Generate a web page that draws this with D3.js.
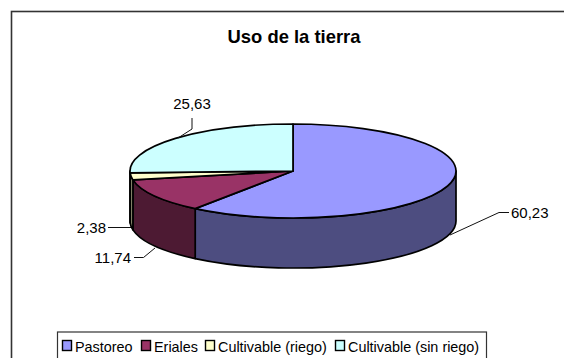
<!DOCTYPE html>
<html>
<head>
<meta charset="utf-8">
<script src="https://cdn.jsdelivr.net/npm/d3@7"></script>
<style>
    html, body { margin: 0; padding: 0; background: #fff; overflow: hidden; }
    text { font-family: "Liberation Sans", Arial, sans-serif; fill: #000; }
</style>
</head>
<body>
<div id="chart"></div>
<script>
const categories = ["Pastoreo", "Eriales", "Cultivable (riego)", "Cultivable (sin riego)"];
const values = [60.23, 11.74, 2.38, 25.63];
const valueLabels = ["60,23", "11,74", "2,38", "25,63"];
const topColors = ["#9999ff", "#993366", "#ffffcc", "#ccffff"];
const sideColors = ["#4d4d80", "#4d1a33", "#808066", "#668080"];
const chartTitle = "Uso de la tierra";

const width = 564, height = 358;
const cx = 293, cy = 171, rx = 163, ry = 47, depth = 50;

const svg = d3.select("#chart").append("svg")
    .attr("width", width)
    .attr("height", height)
    .style("display", "block");

// chart frame, runs off the right and bottom of the picture
svg.append("rect")
    .attr("x", 11.5).attr("y", 11.5)
    .attr("width", 600).attr("height", 400)
    .attr("fill", "#fff")
    .attr("stroke", "#333")
    .attr("stroke-width", 1.6);

svg.append("text")
    .attr("x", 294).attr("y", 43)
    .attr("text-anchor", "middle")
    .style("font-size", "18.4px")
    .style("font-weight", "bold")
    .text(chartTitle);

const pie = d3.pie().sort(null).startAngle(0).endAngle(2 * Math.PI);
const slices = pie(values);

// angle is clockwise from 12 o'clock, like d3.arc
const px = a => cx + rx * Math.sin(a);
const py = a => cy - ry * Math.cos(a);

// side walls, only the front half of the ellipse shows
slices.forEach(function(d, i) {
    let a0 = Math.max(d.startAngle, Math.PI / 2);
    let a1 = Math.min(d.endAngle, 3 * Math.PI / 2);
    if (a1 <= a0) return;
    svg.append("path")
        .attr("d", "M" + px(a0) + "," + py(a0)
            + "A" + rx + "," + ry + " 0 0 1 " + px(a1) + "," + py(a1)
            + "L" + px(a1) + "," + (py(a1) + depth)
            + "A" + rx + "," + ry + " 0 0 0 " + px(a0) + "," + (py(a0) + depth)
            + "Z")
        .attr("fill", sideColors[i])
        .attr("stroke", "#000")
        .attr("stroke-width", 1.7)
        .attr("stroke-linejoin", "round");
});

// top face
const arc = d3.arc().innerRadius(0).outerRadius(rx);
svg.append("g")
    .attr("transform", "translate(" + cx + "," + cy + ") scale(1," + (ry / rx) + ")")
    .selectAll("path")
    .data(slices)
    .enter().append("path")
    .attr("d", arc)
    .attr("fill", (d, i) => topColors[i])
    .attr("stroke", "#000")
    .attr("stroke-width", 1.7)
    .attr("stroke-linejoin", "round")
    .attr("vector-effect", "non-scaling-stroke");

// data labels with leader lines
const labelSpots = [
    { x: 511, y: 218, anchor: "start", pts: [[450, 235], [499, 212.5], [509, 212.5]] },
    { x: 131, y: 263, anchor: "end", pts: [[155, 248], [143.5, 257.5], [134, 257.5]] },
    { x: 106, y: 233, anchor: "end", pts: [[131, 227.5], [108, 227.5]] },
    { x: 192, y: 109, anchor: "middle", pts: [[178, 138], [192, 129], [192, 118]] }
];
const leader = d3.line();
slices.forEach(function(d, i) {
    let s = labelSpots[i];
    svg.append("path")
        .attr("d", leader(s.pts))
        .attr("fill", "none")
        .attr("stroke", "#111")
        .attr("stroke-width", 1);
    svg.append("text")
        .attr("x", s.x).attr("y", s.y)
        .attr("text-anchor", s.anchor)
        .style("font-size", "15px")
        .text(valueLabels[i]);
});

// legend
const legendBox = svg.append("g");
legendBox.append("rect")
    .attr("x", 57.5).attr("y", 332)
    .attr("width", 429).attr("height", 40)
    .attr("fill", "#fff")
    .attr("stroke", "#333")
    .attr("stroke-width", 1.2);
const legendX = [62.5, 141.5, 205.5, 335.5];
categories.forEach(function(c, i) {
    legendBox.append("rect")
        .attr("x", legendX[i]).attr("y", 340.5)
        .attr("width", 9).attr("height", 10)
        .attr("fill", topColors[i])
        .attr("stroke", "#000")
        .attr("stroke-width", 1.4);
    legendBox.append("text")
        .attr("x", legendX[i] + 12.5).attr("y", 352)
        .style("font-size", "14.4px")
        .text(c);
});
</script>
</body>
</html>
